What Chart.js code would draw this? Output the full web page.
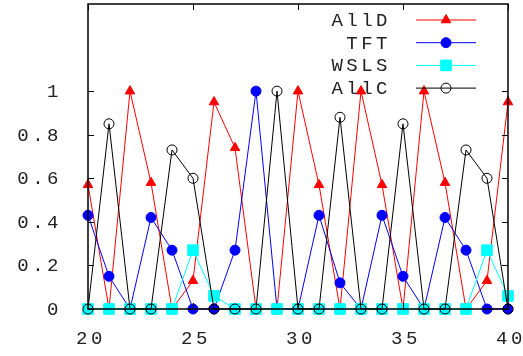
<!DOCTYPE html>
<html>
<head>
<meta charset="utf-8">
<script src="https://cdn.jsdelivr.net/npm/chart.js@4.4.0/dist/chart.umd.min.js"></script>
<style>
  body { margin: 0; background: #fff; }
  canvas { display: block; }
</style>
</head>
<body>
<canvas id="grafico" width="523" height="356"></canvas>
<script>
const rodadas = [20, 21, 22, 23, 24, 25, 26, 27, 28, 29, 30, 31, 32, 33, 34, 35, 36, 37, 38, 39, 40];
const allD = [0.57, 0, 1, 0.58, 0, 0.13, 0.95, 0.74, 0, 0, 1, 0.57, 0, 1, 0.57, 0, 1, 0.58, 0, 0.13, 0.95];
const tft = [0.43, 0.15, 0, 0.42, 0.27, 0, 0, 0.27, 1, 0, 0, 0.43, 0.12, 0, 0.43, 0.15, 0, 0.42, 0.27, 0, 0];
const wsls = [0, 0, 0, 0, 0, 0.27, 0.06, 0, 0, 0, 0, 0, 0, 0, 0, 0, 0, 0, 0, 0.27, 0.06];
const allC = [0, 0.85, 0, 0, 0.73, 0.6, 0, 0, 0, 1, 0, 0, 0.88, 0, 0, 0.85, 0, 0, 0.73, 0.6, 0];

const ticksX = [20, 25, 30, 35, 40];
const rotulosX = ['20', '25', '30', '35', '40'];
const ticksY = [0, 0.2, 0.4, 0.6, 0.8, 1];
const rotulosY = ['0', '0.2', '0.4', '0.6', '0.8', '1'];

const fonte = '19px "Liberation Mono", "Courier New", monospace';

function pontos(valores) {
    return rodadas.map((r, i) => ({ x: r, y: valores[i] }));
}

function serie(nome, valores, cor, estilo, raio, fundo, ordem) {
    return {
        label: nome,
        data: pontos(valores),
        borderColor: cor,
        backgroundColor: fundo,
        pointBackgroundColor: fundo,
        pointBorderColor: cor,
        pointStyle: estilo,
        pointRadius: raio,
        pointBorderWidth: 1,
        borderWidth: 1,
        tension: 0,
        clip: false,
        order: ordem
    };
}

// moldura, ticks, rotulos e legenda no estilo gnuplot
const molduraPlugin = {
    id: 'moldura',
    afterDatasetsDraw(chart) {
        const ctx = chart.ctx;
        const area = chart.chartArea;
        const sx = chart.scales.x;
        const sy = chart.scales.y;
        const tam = 6;

        ctx.save();
        ctx.strokeStyle = '#000';
        ctx.lineWidth = 1.5;
        ctx.strokeRect(area.left, area.top, area.right - area.left, area.bottom - area.top);

        ctx.lineWidth = 1;
        ctx.beginPath();
        ticksY.forEach(v => {
            const y = Math.round(sy.getPixelForValue(v)) + 0.5;
            ctx.moveTo(area.left, y); ctx.lineTo(area.left + tam, y);
            ctx.moveTo(area.right, y); ctx.lineTo(area.right - tam, y);
        });
        ticksX.forEach(v => {
            const x = Math.round(sx.getPixelForValue(v)) + 0.5;
            ctx.moveTo(x, area.bottom); ctx.lineTo(x, area.bottom - tam);
            ctx.moveTo(x, area.top); ctx.lineTo(x, area.top + tam);
        });
        ctx.stroke();

        ctx.fillStyle = '#222';
        ctx.font = fonte;
        ctx.letterSpacing = '3.5px';
        ctx.textBaseline = 'middle';
        ctx.textAlign = 'right';
        ticksY.forEach((v, i) => {
            ctx.fillText(rotulosY[i], area.left - 26, sy.getPixelForValue(v) + 1);
        });
        ctx.textAlign = 'center';
        ticksX.forEach((v, i) => {
            ctx.fillText(rotulosX[i], sx.getPixelForValue(v) + 3, area.bottom + 30);
        });

        // legenda
        chart.data.datasets.forEach((ds, i) => {
            const y = area.top + 16 + i * 22.7;
            ctx.textAlign = 'right';
            ctx.fillStyle = '#222';
            ctx.fillText(ds.label, area.left + 303, y + 1);
            ctx.strokeStyle = ds.borderColor;
            ctx.lineWidth = 1;
            ctx.beginPath();
            ctx.moveTo(area.left + 328, y);
            ctx.lineTo(area.left + 388, y);
            ctx.stroke();
            ctx.fillStyle = ds.pointBackgroundColor;
            Chart.helpers.drawPoint(ctx, {
                pointStyle: ds.pointStyle,
                radius: ds.pointRadius,
                rotation: 0,
                borderWidth: 1
            }, area.left + 358, y);
        });
        ctx.restore();
    }
};

new Chart(document.getElementById('grafico'), {
    type: 'line',
    data: {
        datasets: [
            serie('AllD', allD, '#ff0000', 'triangle', 5.5, '#ff0000', 4),
            serie('TFT', tft, '#0000ff', 'circle', 5, '#0000ff', 3),
            serie('WSLS', wsls, '#00ffff', 'rect', 7.5, '#00ffff', 2),
            serie('AllC', allC, '#000000', 'circle', 5, 'rgba(0,0,0,0)', 1)
        ]
    },
    options: {
        responsive: false,
        devicePixelRatio: 1,
        animation: false,
        layout: { autoPadding: false, padding: { left: 88, right: 15, top: 4, bottom: 47 } },
        plugins: {
            legend: { display: false },
            tooltip: { enabled: false }
        },
        scales: {
            x: { type: 'linear', display: false, min: 20, max: 40 },
            y: { display: false, min: 0, max: 1.4 }
        }
    },
    plugins: [molduraPlugin]
});
</script>
</body>
</html>
